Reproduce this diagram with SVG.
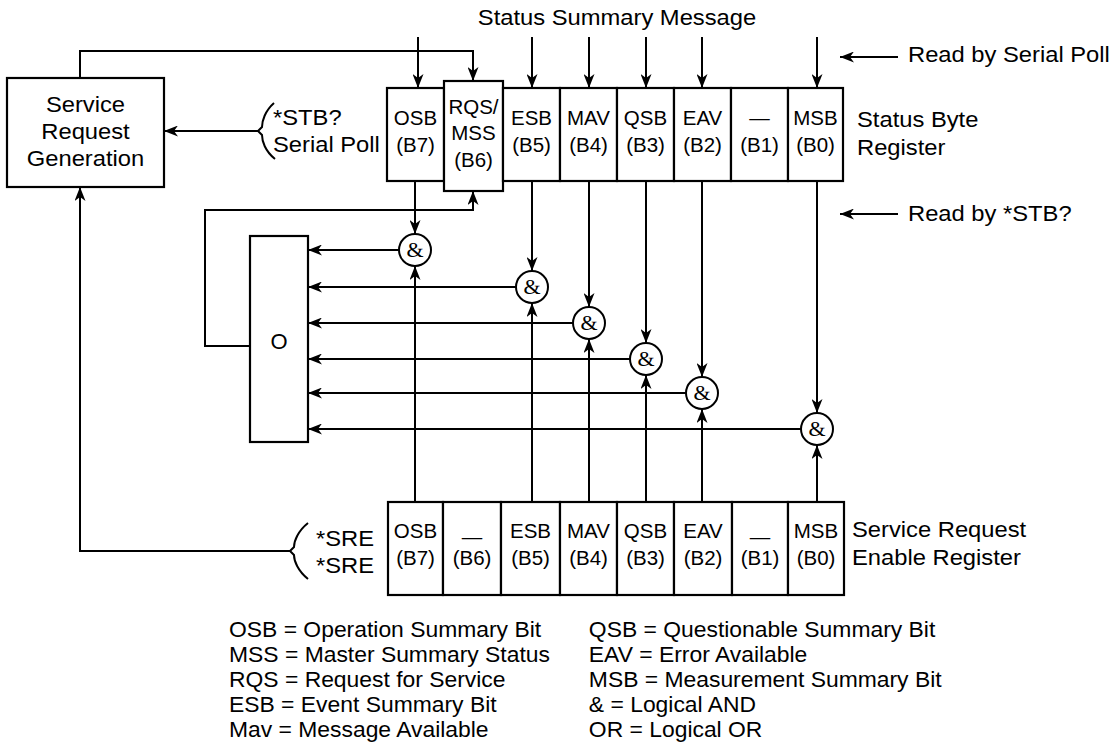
<svg xmlns="http://www.w3.org/2000/svg" width="1115" height="754" viewBox="0 0 1115 754">
<style>
.box{fill:#fff;stroke:#000;stroke-width:2.2}
.ln{fill:none;stroke:#000;stroke-width:2}
.arr{fill:none;stroke:#000;stroke-width:2;marker-end:url(#ah)}
.t{font-family:"Liberation Sans",Arial,sans-serif;font-size:22px;fill:#000}
.c{font-family:"Liberation Sans",Arial,sans-serif;font-size:20.5px;fill:#000;text-anchor:middle}
.amp{font-family:"Liberation Serif","Times New Roman",serif;font-size:22px;fill:#000;text-anchor:middle}
.gate{fill:#fff;stroke:#000;stroke-width:2}
</style>
<defs>
<marker id="ah" viewBox="0 0 14 11" refX="14" refY="5.5" markerWidth="14" markerHeight="11" markerUnits="userSpaceOnUse" orient="auto">
<path d="M0,0 L14,5.5 L0,11 L4,5.5 Z" fill="#000"/>
</marker>
</defs>
<rect width="1115" height="754" fill="#fff"/>

<g id="connectors">
<path class="arr" d="M80,78 V51 H473 V81"/>
<path class="arr" d="M418,37 V88"/>
<path class="arr" d="M532,37 V88"/>
<path class="arr" d="M589,37 V88"/>
<path class="arr" d="M646,37 V88"/>
<path class="arr" d="M702,37 V88"/>
<path class="arr" d="M817,37 V88"/>
<path class="arr" d="M898,57 H840"/>
<path class="arr" d="M898,214 H840"/>
<path class="arr" d="M258,131 H164"/>
<path class="ln" d="M274,103 C265,111 262,121 262,127 L258,131 L262,135 C262,141 265,151 275,159"/>
<path class="arr" d="M290,551 H80 V187"/>
<path class="ln" d="M308,523 C298,531 294,541 294,547 L290,551 L294,555 C294,561 298,571 308,579"/>
<path class="arr" d="M250,346 H205 V210 H473 V191"/>
<path class="arr" d="M415,181 V234"/>
<path class="arr" d="M532,181 V271"/>
<path class="arr" d="M589,181 V307"/>
<path class="arr" d="M646,181 V343"/>
<path class="arr" d="M702,181 V377"/>
<path class="arr" d="M817,181 V413"/>
<path class="arr" d="M415,502 V266"/>
<path class="arr" d="M532,502 V303"/>
<path class="arr" d="M589,502 V339"/>
<path class="arr" d="M646,502 V375"/>
<path class="arr" d="M702,502 V409"/>
<path class="arr" d="M817,502 V445"/>
<path class="arr" d="M399,250 H308"/>
<path class="arr" d="M516,287 H308"/>
<path class="arr" d="M573,323 H308"/>
<path class="arr" d="M630,359 H308"/>
<path class="arr" d="M686,393 H308"/>
<path class="arr" d="M801,429 H308"/>
</g>

<g id="srg">
<rect class="box" x="7" y="78" width="157" height="109"/>
<text class="t" text-anchor="middle" transform="translate(85.5,112) scale(1.08,1)">Service</text>
<text class="t" text-anchor="middle" transform="translate(85.5,139) scale(1.08,1)">Request</text>
<text class="t" text-anchor="middle" transform="translate(85.5,166) scale(1.08,1)">Generation</text>
</g>

<g id="stb-label">
<text class="t" transform="translate(273,125) scale(1.08,1)">*STB?</text>
<text class="t" transform="translate(273,152) scale(1.08,1)">Serial Poll</text>
</g>

<g id="sre-label">
<text class="t" transform="translate(316,546) scale(1.08,1)">*SRE</text>
<text class="t" transform="translate(316,573) scale(1.08,1)">*SRE</text>
</g>

<g id="top-labels">
<text class="t" text-anchor="middle" transform="translate(617,25) scale(1.08,1)">Status Summary Message</text>
<text class="t" transform="translate(908,62) scale(1.08,1)">Read by Serial Poll</text>
<text class="t" transform="translate(908,221) scale(1.08,1)">Read by *STB?</text>
<text class="t" transform="translate(857,127) scale(1.08,1)">Status Byte</text>
<text class="t" transform="translate(857,155) scale(1.08,1)">Register</text>
<text class="t" transform="translate(852,537) scale(1.08,1)">Service Request</text>
<text class="t" transform="translate(852,565) scale(1.08,1)">Enable Register</text>
</g>

<g id="status-byte-register">
<rect class="box" x="387" y="88" width="57" height="93"/>
<text class="c" x="415.5" y="125">OSB</text><text class="c" x="415.5" y="152">(B7)</text>
<rect class="box" x="444" y="81" width="59" height="110"/>
<text class="c" x="473.5" y="114">RQS/</text><text class="c" x="473.5" y="140">MSS</text><text class="c" x="473.5" y="167">(B6)</text>
<rect class="box" x="503" y="88" width="57" height="93"/>
<text class="c" x="531.5" y="125">ESB</text><text class="c" x="531.5" y="152">(B5)</text>
<rect class="box" x="560" y="88" width="57" height="93"/>
<text class="c" x="588.5" y="125">MAV</text><text class="c" x="588.5" y="152">(B4)</text>
<rect class="box" x="617" y="88" width="57" height="93"/>
<text class="c" x="645.5" y="125">QSB</text><text class="c" x="645.5" y="152">(B3)</text>
<rect class="box" x="674" y="88" width="57" height="93"/>
<text class="c" x="702.5" y="125">EAV</text><text class="c" x="702.5" y="152">(B2)</text>
<rect class="box" x="731" y="88" width="57" height="93"/>
<text class="c" x="759.5" y="125">—</text><text class="c" x="759.5" y="152">(B1)</text>
<rect class="box" x="788" y="88" width="55" height="93"/>
<text class="c" x="815.5" y="125">MSB</text><text class="c" x="815.5" y="152">(B0)</text>
</g>

<g id="or-gate">
<rect class="box" x="250" y="236" width="58" height="206"/>
<text class="t" text-anchor="middle" x="279" y="349">O</text>
</g>

<g id="and-gates">
<circle class="gate" cx="415" cy="250" r="16"/><text class="amp" x="415" y="257">&amp;</text>
<circle class="gate" cx="532" cy="287" r="16"/><text class="amp" x="532" y="294">&amp;</text>
<circle class="gate" cx="589" cy="323" r="16"/><text class="amp" x="589" y="330">&amp;</text>
<circle class="gate" cx="646" cy="359" r="16"/><text class="amp" x="646" y="366">&amp;</text>
<circle class="gate" cx="702" cy="393" r="16"/><text class="amp" x="702" y="400">&amp;</text>
<circle class="gate" cx="817" cy="429" r="16"/><text class="amp" x="817" y="436">&amp;</text>
</g>

<g id="enable-register">
<rect class="box" x="388" y="502" width="55" height="93"/>
<text class="c" x="415.5" y="538">OSB</text><text class="c" x="415.5" y="565">(B7)</text>
<rect class="box" x="443" y="502" width="58" height="93"/>
<text class="c" x="472" y="544">—</text><text class="c" x="472" y="565">(B6)</text>
<rect class="box" x="501" y="502" width="59" height="93"/>
<text class="c" x="530.5" y="538">ESB</text><text class="c" x="530.5" y="565">(B5)</text>
<rect class="box" x="560" y="502" width="57" height="93"/>
<text class="c" x="588.5" y="538">MAV</text><text class="c" x="588.5" y="565">(B4)</text>
<rect class="box" x="617" y="502" width="57" height="93"/>
<text class="c" x="645.5" y="538">QSB</text><text class="c" x="645.5" y="565">(B3)</text>
<rect class="box" x="674" y="502" width="58" height="93"/>
<text class="c" x="703" y="538">EAV</text><text class="c" x="703" y="565">(B2)</text>
<rect class="box" x="732" y="502" width="56" height="93"/>
<text class="c" x="760" y="544">—</text><text class="c" x="760" y="565">(B1)</text>
<rect class="box" x="788" y="502" width="56" height="93"/>
<text class="c" x="816" y="538">MSB</text><text class="c" x="816" y="565">(B0)</text>
</g>

<g id="legend" transform="translate(229,0) scale(1.04,1)">
<text class="t" x="0" y="637">OSB = Operation Summary Bit</text>
<text class="t" x="0" y="662">MSS = Master Summary Status</text>
<text class="t" x="0" y="687">RQS = Request for Service</text>
<text class="t" x="0" y="712">ESB = Event Summary Bit</text>
<text class="t" x="0" y="737">Mav = Message Available</text>
<text class="t" x="346" y="637">QSB = Questionable Summary Bit</text>
<text class="t" x="346" y="662">EAV = Error Available</text>
<text class="t" x="346" y="687">MSB = Measurement Summary Bit</text>
<text class="t" x="346" y="712">&amp; = Logical AND</text>
<text class="t" x="346" y="737">OR = Logical OR</text>
</g>
</svg>
